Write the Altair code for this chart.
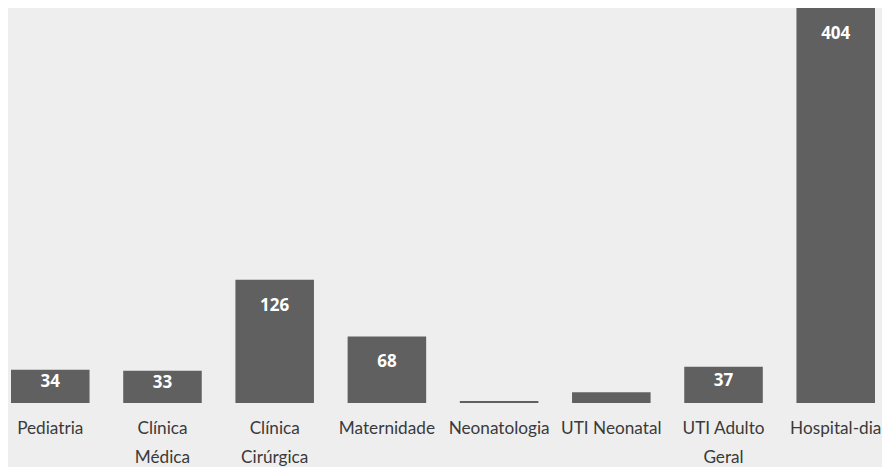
import altair as alt
import pandas as pd

categories = ["Pediatria", "Clínica\nMédica", "Clínica\nCirúrgica", "Maternidade",
              "Neonatologia", "UTI Neonatal", "UTI Adulto\nGeral", "Hospital-dia"]
values = [34, 33, 126, 68, 2, 11, 37, 404]
labels = ["34", "33", "126", "68", "", "", "37", "404"]

df = pd.DataFrame({"cat": categories, "value": values, "label": labels})

x = alt.X("cat:N", sort=categories, title=None,
          scale=alt.Scale(paddingInner=0.3, paddingOuter=0),
          axis=alt.Axis(labelAngle=0, domain=False, ticks=False, labelPadding=16,
                        labelFont="Lato", labelFontSize=17.2, labelColor="#3a3a3a",
                        labelLineHeight=29, labelBaseline="top", labelOverlap=False,
                        labelExpr="split(datum.label, '\\n')"))
y = alt.Y("value:Q", title=None, scale=alt.Scale(domain=[0, 404], nice=False),
          axis=None)

bars = alt.Chart(df).mark_bar(color="#606060").encode(x=x, y=y)

text = alt.Chart(df).transform_filter("datum.label != ''").transform_calculate(
    ly="datum.value - min(27, datum.value * 0.38)"
).mark_text(color="white", font="Open Sans", fontWeight="bold", fontSize=17,
            baseline="middle").encode(
    x=alt.X("cat:N", sort=categories),
    y=alt.Y("ly:Q"),
    text="label:N",
)

chart = (bars + text).properties(
    width=864, height=395, background="#eeeeee",
    autosize=alt.AutoSizeParams(type="none"),
    padding={"left": 3, "top": 0, "right": 7, "bottom": 72},
).configure_view(stroke=None)

chart.save("out.html", embed_options={"renderer": "svg", "actions": False})
